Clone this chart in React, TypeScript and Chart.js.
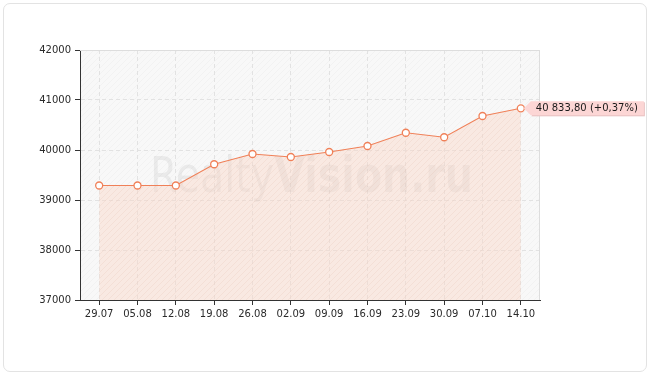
import React, { useEffect, useRef } from "react";
import { Chart, registerables } from "chart.js";

Chart.register(...registerables);

const categories = ["29.07", "05.08", "12.08", "19.08", "26.08", "02.09", "09.09", "16.09", "23.09", "30.09", "07.10", "14.10"];
const values = [39290, 39290, 39290, 39715, 39920, 39860, 39960, 40080, 40345, 40255, 40680, 40833.8];
const yTicks = [37000, 38000, 39000, 40000, 41000, 42000];
const lastLabel = "40 833,80 (+0,37%)";
const watermarkA = "Realty";
const watermarkB = "Vision.ru";

const LINE = "rgb(240,128,88)";
const FONT = "'DejaVu Sans', sans-serif";

function makePattern(base: string, stroke: string): CanvasPattern | string {
  const c = document.createElement("canvas");
  c.width = 6;
  c.height = 6;
  const x = c.getContext("2d");
  if (!x) return base;
  x.fillStyle = base;
  x.fillRect(0, 0, 6, 6);
  x.strokeStyle = stroke;
  x.lineWidth = 1;
  x.beginPath();
  x.moveTo(0, 6);
  x.lineTo(6, 0);
  x.moveTo(-1, 1);
  x.lineTo(1, -1);
  x.moveTo(5, 7);
  x.lineTo(7, 5);
  x.stroke();
  const p = x.createPattern(c, "repeat");
  return p || base;
}

export default function App() {
  const ref = useRef<HTMLCanvasElement | null>(null);

  useEffect(() => {
    document.body.style.margin = "0";
    const canvas = ref.current;
    if (!canvas) return;
    const ctx = canvas.getContext("2d");
    if (!ctx) return;

    const bgPattern = makePattern("#f8f8f8", "rgba(0,0,0,0.022)");
    const fillPattern = makePattern("rgba(250,215,200,0.45)", "rgba(230,160,140,0.10)");

    const decor = {
      id: "decor",
      beforeDraw(chart: any) {
        const { ctx: c, chartArea: a } = chart;
        c.save();
        c.fillStyle = bgPattern;
        c.fillRect(a.left, a.top, a.right - a.left, a.bottom - a.top);
        c.restore();
      },
      beforeDatasetsDraw(chart: any) {
        const { ctx: c, chartArea: a } = chart;
        c.save();
        c.strokeStyle = "#dddddd";
        c.lineWidth = 1;
        c.beginPath();
        c.moveTo(a.left, a.top + 0.5);
        c.lineTo(a.right - 0.5, a.top + 0.5);
        c.lineTo(a.right - 0.5, a.bottom);
        c.stroke();
        // watermark
        c.fillStyle = "rgba(0,0,0,0.055)";
        c.textBaseline = "alphabetic";
        c.font = `normal 50px ${FONT}`;
        const wA = c.measureText(watermarkA).width;
        c.font = `bold 50px ${FONT}`;
        const wB = c.measureText(watermarkB).width;
        const target = 323;
        const s = target / (wA + wB);
        c.translate(150, 192);
        c.scale(s, 1);
        c.font = `normal 50px ${FONT}`;
        c.fillText(watermarkA, 0, 0);
        c.font = `bold 50px ${FONT}`;
        c.fillText(watermarkB, wA, 0);
        c.restore();
      },
      afterDraw(chart: any) {
        const { ctx: c } = chart;
        const meta = chart.getDatasetMeta(0);
        const pt = meta.data[meta.data.length - 1];
        if (!pt) return;
        const px = pt.x;
        const py = pt.y;
        c.save();
        c.font = `10px ${FONT}`;
        const tw = c.measureText(lastLabel).width;
        const left = px + 10;
        const h = 14;
        const top = py - h / 2;
        const w = tw + 11;
        c.fillStyle = "#e9c2c2";
        c.fillRect(left + 1, top + 1, w, h);
        c.fillStyle = "#fcd6d5";
        c.beginPath();
        c.moveTo(px + 3, py);
        c.lineTo(left, top);
        c.lineTo(left + w, top);
        c.lineTo(left + w, top + h);
        c.lineTo(left, top + h);
        c.closePath();
        c.fill();
        c.fillStyle = "#1a1a1a";
        c.textBaseline = "middle";
        c.fillText(lastLabel, left + 5, py + 0.5);
        c.restore();
      },
    };

    const chart = new Chart(ctx, {
      type: "line",
      data: {
        labels: categories,
        datasets: [
          {
            data: values,
            borderColor: LINE,
            borderWidth: 1.1,
            backgroundColor: fillPattern as any,
            fill: "start",
            tension: 0,
            pointRadius: 3.5,
            pointBackgroundColor: "#ffffff",
            pointBorderColor: LINE,
            pointBorderWidth: 1.3,
          },
        ],
      },
      options: {
        animation: false,
        responsive: false,
        maintainAspectRatio: false,
        events: [],
        layout: { padding: { left: 0, top: 50, right: 110, bottom: 0 } },
        plugins: { legend: { display: false }, tooltip: { enabled: false } },
        scales: {
          x: {
            offset: true,
            grid: {
              offset: false,
              color: "#e2e2e2",
              tickColor: "#333",
              tickLength: 5,
              tickBorderDash: [],
            } as any,
            border: { color: "#333", dash: [4, 3], width: 1 } as any,
            ticks: { color: "#2a2a2a", font: { family: FONT, size: 10 }, padding: 3, maxRotation: 0, autoSkip: false },
            afterFit(scale: any) {
              scale.height = 75;
            },
          },
          y: {
            min: yTicks[0],
            max: yTicks[yTicks.length - 1],
            afterBuildTicks(scale: any) {
              scale.ticks = yTicks.map((v) => ({ value: v }));
            },
            grid: {
              color: "#e2e2e2",
              tickColor: "#333",
              tickLength: 5,
              tickBorderDash: [],
            } as any,
            border: { color: "#333", dash: [4, 3], width: 1 } as any,
            ticks: { color: "#2a2a2a", font: { family: FONT, size: 10 }, padding: 4, callback: (v: any) => String(v) },
            afterFit(scale: any) {
              scale.width = 80;
            },
          },
        },
      },
      plugins: [decor],
    });

    return () => chart.destroy();
  }, []);

  return (
    <div style={{ position: "absolute", left: 0, top: 0, width: 650, height: 375, background: "#fff" }}>
      <div
        style={{
          position: "absolute",
          left: 3,
          top: 3,
          width: 644,
          height: 369,
          border: "1px solid #e3e3e3",
          borderRadius: 7,
          boxSizing: "border-box",
        }}
      />
      <canvas ref={ref} width={650} height={375} style={{ position: "absolute", left: 0, top: 0, width: 650, height: 375 }} />
    </div>
  );
}
